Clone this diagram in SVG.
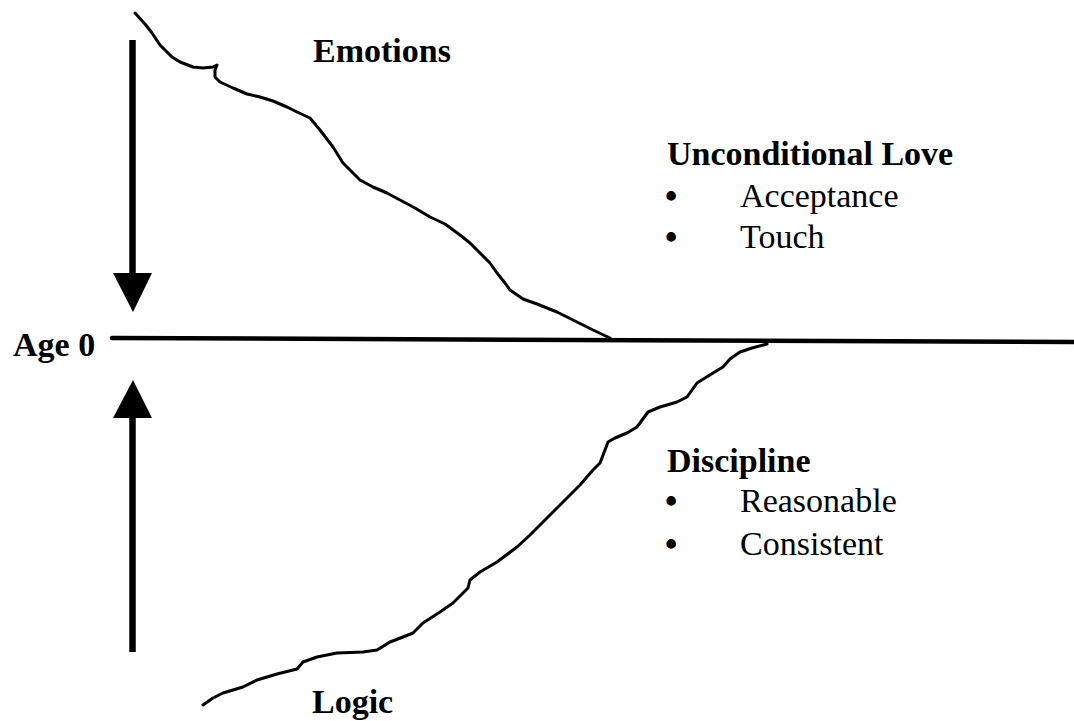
<svg xmlns="http://www.w3.org/2000/svg" width="1074" height="721" viewBox="0 0 1074 721">
<style>
.t{font-family:"Liberation Serif","Times New Roman",serif;font-size:34px;fill:#000}
.b{font-weight:bold}
.bul{font-family:"Liberation Serif","Times New Roman",serif;font-size:35px;font-weight:bold;fill:#000}
.curve{fill:none;stroke:#000;stroke-width:3;stroke-linejoin:round;stroke-linecap:round}
.shaft{stroke:#000;stroke-width:6.5}
</style>
<rect width="1074" height="721" fill="#fff"/>
<g id="connectors">
<line id="axis" x1="112" y1="338" x2="1074" y2="342" stroke="#000" stroke-width="4.5" stroke-linecap="round"/>
<g id="arrow-down">
<line class="shaft" x1="132.5" y1="40" x2="132.5" y2="276"/>
<polygon points="113,273 152,273 133,312" fill="#000"/>
</g>
<g id="arrow-up">
<line class="shaft" x1="132.5" y1="415" x2="132.5" y2="652"/>
<polygon points="113,418 152,418 133,380" fill="#000"/>
</g>
<polyline id="emotions-curve" class="curve" points="135,13 145,24 152,33 160,45 172,57 180,62 193,67 203,68 213,67 217,65 215,70 215,77 220,82 233,88 247,94 260,97 273,101 287,107 297,112 310,118 320,130 333,147 343,163 360,180 373,187 387,193 400,200 415,208 430,217 445,224 460,235 470,243 480,253 490,263 497,273 505,283 510,290 523,299 537,304 557,312 573,320 593,330 610,338"/>
<polyline id="logic-curve" class="curve" points="767,344 752,348 740,352 730,359 723,367 713,373 697,383 687,397 677,402 660,407 648,412 637,427 627,433 615,438 608,442 605,450 600,463 593,470 580,485 557,508 530,535 517,547 497,562 480,572 470,580 468,588 453,603 440,612 423,623 413,633 403,637 390,642 377,650 363,652 337,653 317,657 303,662 297,669 277,674 257,680 243,687 233,690 223,693 213,698 203,705"/>
</g>
<g id="emotions"><text class="t b" x="313" y="62">Emotions</text></g>
<g id="age0"><text class="t b" x="13" y="356">Age 0</text></g>
<g id="logic"><text class="t b" x="312" y="713">Logic</text></g>
<g id="unconditional-love">
<text class="t b" x="667" y="165">Unconditional Love</text>
<text class="bul" x="665" y="208">•</text>
<text class="t" x="740" y="207">Acceptance</text>
<text class="bul" x="665" y="249">•</text>
<text class="t" x="740" y="248">Touch</text>
</g>
<g id="discipline">
<text class="t b" x="667" y="472">Discipline</text>
<text class="bul" x="665" y="513">•</text>
<text class="t" x="740" y="512">Reasonable</text>
<text class="bul" x="665" y="556">•</text>
<text class="t" x="740" y="555">Consistent</text>
</g>
</svg>
